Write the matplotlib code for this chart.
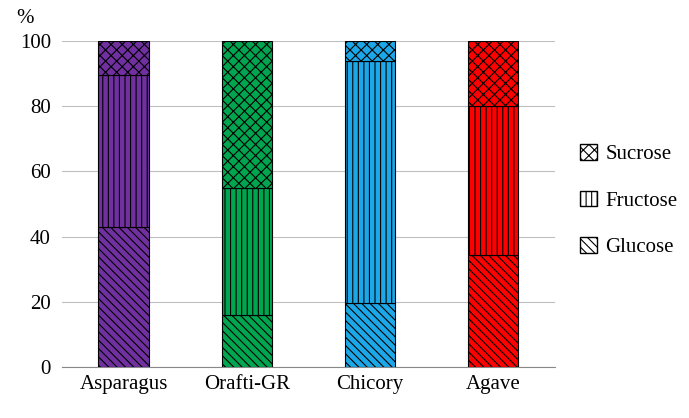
import matplotlib
matplotlib.use("Agg")
import matplotlib.pyplot as plt
from matplotlib.patches import Patch

categories = ["Asparagus", "Orafti-GR", "Chicory", "Agave"]
glucose = [43, 16, 19.5, 34.5]
fructose = [46.5, 39, 74.5, 45.5]
sucrose = [10.5, 45, 6, 20]
colors = ["#7030A0", "#00A550", "#1CA8E8", "#FF0000"]
yticks = [0, 20, 40, 60, 80, 100]

plt.rcParams["font.family"] = "Liberation Serif"
plt.rcParams["hatch.linewidth"] = 0.8
fig = plt.figure(figsize=(6.89, 4.18), dpi=100)
ax = fig.add_axes([0.09, 0.122, 0.715, 0.78])

x = range(len(categories))
w = 0.41
ax.bar(x, glucose, w, color=colors, edgecolor="black", hatch="\\\\\\\\", linewidth=0.8, zorder=3)
bot2 = glucose
ax.bar(x, fructose, w, bottom=bot2, color=colors, edgecolor="black", hatch="|||", linewidth=0.8, zorder=3)
bot3 = [g + f for g, f in zip(glucose, fructose)]
ax.bar(x, sucrose, w, bottom=bot3, color=colors, edgecolor="black", hatch="xxx", linewidth=0.8, zorder=3)

ax.set_ylim(0, 100)
ax.set_xlim(-0.5, 3.5)
ax.set_yticks(yticks)
ax.set_xticks(list(x))
ax.set_xticklabels(categories, fontsize=15)
ax.tick_params(axis="y", labelsize=15, length=0, pad=8)
ax.tick_params(axis="x", length=0, pad=6)
ax.grid(axis="y", color="#bfbfbf", linewidth=0.8, zorder=0)
for s in ["top", "right", "left"]:
    ax.spines[s].set_visible(False)
ax.spines["bottom"].set_color("#888888")
ax.text(-0.075, 1.055, "%", transform=ax.transAxes, fontsize=15, ha="center")

handles = [Patch(facecolor="white", edgecolor="black", hatch="xxx", label="Sucrose"),
           Patch(facecolor="white", edgecolor="black", hatch="|||", label="Fructose"),
           Patch(facecolor="white", edgecolor="black", hatch="\\\\\\\\", label="Glucose")]
fig.legend(handles=handles, loc="center left", bbox_to_anchor=(0.815, 0.52), frameon=False,
           fontsize=15, handlelength=0.8, handleheight=0.8, handletextpad=0.4, labelspacing=1.25)
fig.savefig("out.png", dpi=100)
